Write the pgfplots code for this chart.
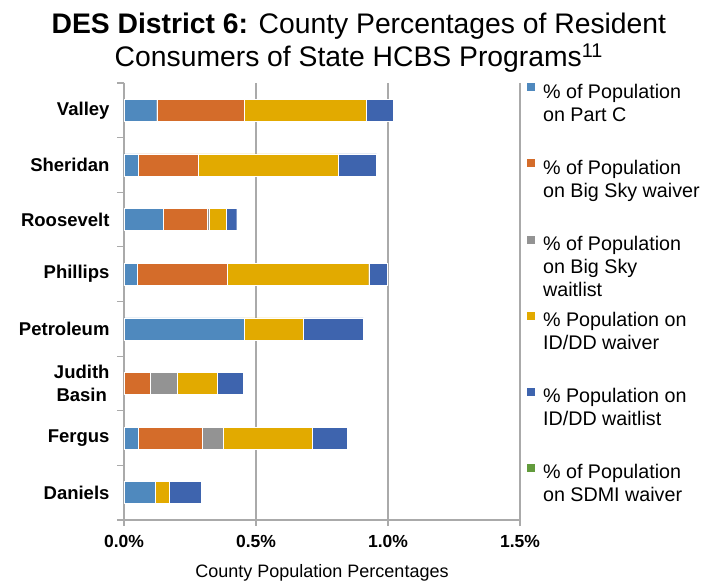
\documentclass[border=0pt]{standalone}
\usepackage{pgfplots}
\pgfplotsset{compat=1.18}
\usepackage{pgfplotstable}
\usepackage{fontspec}
\setmainfont{Liberation Sans}

\definecolor{partc}{RGB}{79,137,190}
\definecolor{bigsky}{RGB}{212,108,42}
\definecolor{bswait}{RGB}{147,147,147}
\definecolor{idwaiver}{RGB}{226,170,0}
\definecolor{idwait}{RGB}{62,100,174}
\definecolor{sdmi}{RGB}{98,155,60}
\definecolor{gridgray}{RGB}{170,170,170}

% values in percent of county population
\pgfplotstableread{
y partc bigsky bswait idwaiver idwait sdmi
0 0.124 0.331 0.000 0.462 0.103 0
1 0.054 0.228 0.000 0.531 0.144 0
2 0.149 0.167 0.006 0.064 0.041 0
3 0.050 0.341 0.000 0.536 0.069 0
4 0.455 0.000 0.000 0.224 0.228 0
5 0.000 0.098 0.104 0.150 0.100 0
6 0.054 0.243 0.079 0.337 0.134 0
7 0.117 0.000 0.000 0.056 0.120 0
}\districtsix

% legend rows only count the first line, so row sep sets the spacing
\newcommand{\lentry}[1]{\hspace{4pt}\begin{tabular}[t]{@{}l@{}}#1\end{tabular}}

\begin{document}
\begin{tikzpicture}
\begin{axis}[
    scale only axis,
    width=396pt, height=437pt,
    xbar stacked,
    bar width=22pt,
    y dir=reverse,
    xmin=0, xmax=1.5,
    ymin=-0.5, ymax=7.5,
    axis x line=bottom,
    axis y line=left,
    axis line style={gridgray, line width=1.2pt, -},
    xtick={0,0.5,1,1.5},
    xticklabels={0.0\%,0.5\%,1.0\%,1.5\%},
    xmajorgrids=true,
    grid style={gridgray, line width=1.2pt},
    major x tick style={gridgray, line width=1.2pt},
    major tick length=6pt,
    ytick={0,...,7},
    yticklabels={Valley,Sheridan,Roosevelt,Phillips,Petroleum,{Judith\\Basin},Fergus,Daniels},
    major y tick style={draw=none},
    minor ytick={-0.5,0.5,1.5,2.5,3.5,4.5,5.5,6.5,7.5},
    minor y tick style={gridgray, line width=1.2pt},
    minor tick length=7pt,
    tick align=outside,
    yticklabel style={font=\fontsize{18.5}{23}\selectfont\bfseries, align=center, xshift=-5pt},
    xticklabel style={font=\fontsize{17.5}{20}\selectfont\bfseries, yshift=-6pt},
    /pgf/number format/assume math mode=true,
    xlabel={County Population Percentages},
    xlabel style={font=\fontsize{18}{20}\selectfont, yshift=-10pt},
    every axis plot/.append style={draw=white, line width=0.4pt},
    legend cell align=left,
    legend style={draw=none, fill=none, at={(rel axis cs:1,1)}, anchor=north west,
        xshift=3pt, yshift=4pt, row sep=56.5pt,
        font=\fontsize{19.7}{23}\selectfont,
        nodes={inner sep=1pt, inner xsep=4pt}},
    legend image code/.code={\fill[#1] (0pt,-0.5pt) rectangle (8.5pt,8.5pt);},
    clip=false,
]
\addplot[fill=partc] table[x=partc, y=y] {\districtsix};
\addlegendentry{\lentry{\% of Population\\on Part C}}
\addplot[fill=bigsky] table[x=bigsky, y=y] {\districtsix};
\addlegendentry{\lentry{\% of Population\\on Big Sky waiver}}
\addplot[fill=bswait] table[x=bswait, y=y] {\districtsix};
\addlegendentry{\lentry{\% of Population\\on Big Sky\\waitlist}}
\addplot[fill=idwaiver] table[x=idwaiver, y=y] {\districtsix};
\addlegendentry{\lentry{\% Population on\\ID/DD waiver}}
\addplot[fill=idwait] table[x=idwait, y=y] {\districtsix};
\addlegendentry{\lentry{\% Population on\\ID/DD waitlist}}
\addplot[fill=sdmi] table[x=sdmi, y=y] {\districtsix};
\addlegendentry{\lentry{\% of Population\\on SDMI waiver}}

\coordinate (ll) at (rel axis cs:0,0);
\coordinate (ur) at (rel axis cs:1,1);
\node[font=\fontsize{28.3}{33}\selectfont, align=center, anchor=south, inner sep=1pt]
    at ([yshift=9pt]rel axis cs:0.593,1)
    {\textbf{DES District 6:} County Percentages of Resident\\Consumers of State HCBS Programs\textsuperscript{11}};
\end{axis}
\path ([shift={(-124pt,-64pt)}]ll) rectangle ([shift={(195pt,83pt)}]ur);
\end{tikzpicture}
\end{document}
